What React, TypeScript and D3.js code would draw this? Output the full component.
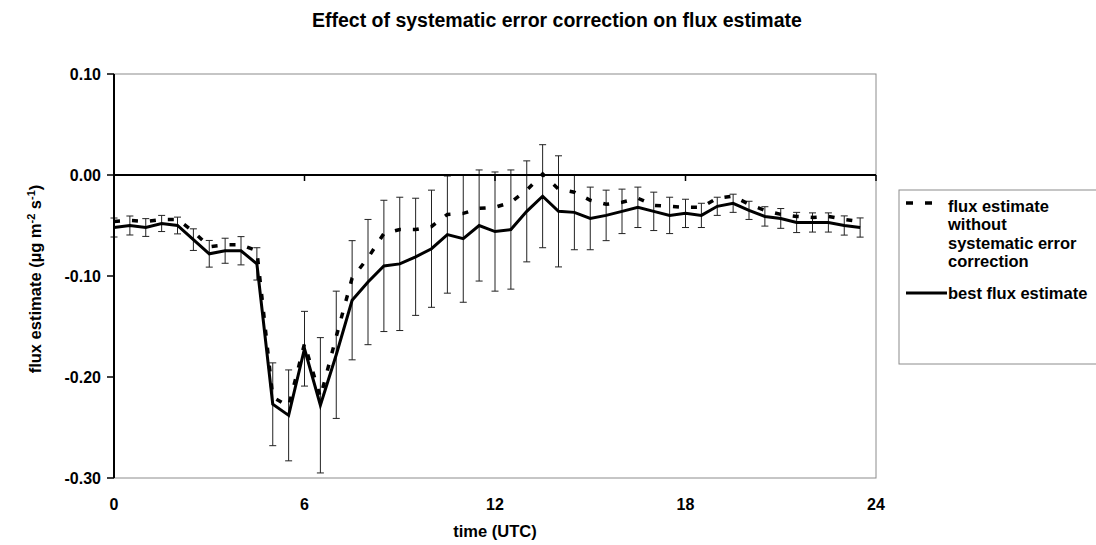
import React from "react";
import * as d3 from "d3";

const hours = [0, 0.5, 1, 1.5, 2, 2.5, 3, 3.5, 4, 4.5, 5, 5.5, 6, 6.5, 7, 7.5, 8, 8.5, 9, 9.5, 10, 10.5, 11, 11.5, 12, 12.5, 13, 13.5, 14, 14.5, 15, 15.5, 16, 16.5, 17, 17.5, 18, 18.5, 19, 19.5, 20, 20.5, 21, 21.5, 22, 22.5, 23, 23.5];

const bestFlux = [-0.052, -0.05, -0.052, -0.048, -0.05, -0.064, -0.078, -0.075, -0.075, -0.088, -0.227, -0.238, -0.172, -0.228, -0.178, -0.124, -0.106, -0.09, -0.088, -0.081, -0.073, -0.059, -0.063, -0.05, -0.056, -0.054, -0.036, -0.021, -0.036, -0.037, -0.043, -0.04, -0.036, -0.032, -0.036, -0.04, -0.038, -0.04, -0.031, -0.028, -0.035, -0.041, -0.043, -0.047, -0.047, -0.047, -0.05, -0.052];

const uncorrectedFlux = [-0.046, -0.045, -0.046, -0.044, -0.044, -0.056, -0.071, -0.069, -0.069, -0.075, -0.22, -0.229, -0.167, -0.22, -0.16, -0.102, -0.082, -0.058, -0.054, -0.054, -0.051, -0.039, -0.038, -0.033, -0.032, -0.027, -0.015, 0.001, -0.014, -0.017, -0.025, -0.029, -0.027, -0.023, -0.03, -0.031, -0.032, -0.032, -0.023, -0.021, -0.029, -0.035, -0.039, -0.041, -0.042, -0.041, -0.044, -0.046];

const errHalf = [0.0094, 0.0094, 0.0088, 0.008, 0.0083, 0.0107, 0.0132, 0.0124, 0.014, 0.016, 0.041, 0.045, 0.037, 0.067, 0.063, 0.059, 0.062, 0.065, 0.066, 0.058, 0.058, 0.058, 0.063, 0.055, 0.059, 0.059, 0.05, 0.051, 0.055, 0.037, 0.031, 0.025, 0.022, 0.02, 0.019, 0.018, 0.014, 0.012, 0.009, 0.009, 0.009, 0.0096, 0.0098, 0.01, 0.0095, 0.0095, 0.0095, 0.0095];

const xTicks = [0, 6, 12, 18, 24];
const yTicks = [0.1, 0, -0.1, -0.2, -0.3];
const yTickLabels = ["0.10", "0.00", "-0.10", "-0.20", "-0.30"];

const titleText = "Effect of systematic error correction on flux estimate";
const legendUncorrected = ["flux estimate", "without", "systematic error", "correction"];
const legendBest = "best flux estimate";

const W = 1096;
const H = 545;
const L = 114, R = 876, T = 74, B = 478;

export default function App() {
  const x = d3.scaleLinear().domain([0, 24]).range([L, R]);
  const y = d3.scaleLinear().domain([-0.3, 0.1]).range([B, T]);
  const line = d3
    .line<number>()
    .x((_, i) => x(hours[i]))
    .y((d) => y(d));
  const font = "'Liberation Sans', Arial, sans-serif";
  return (
    <svg
      width={W}
      height={H}
      style={{ position: "absolute", left: 0, top: 0, background: "#fff" }}
      fontFamily={font}
      fontWeight="bold"
    >
      <rect x={0} y={0} width={W} height={H} fill="#fff" />
      <text x={312} y={27} fontSize={19.5} fill="#000">
        {titleText}
      </text>
      {/* plot frame */}
      <rect x={L} y={T} width={R - L} height={B - T} fill="none" stroke="#8c8c8c" strokeWidth={1} />
      {/* error bars */}
      {hours.map((h, i) => {
        const cx = x(h);
        const y1 = y(bestFlux[i] + errHalf[i]);
        const y2 = y(bestFlux[i] - errHalf[i]);
        return (
          <g key={"e" + i} stroke="#222" strokeWidth={1}>
            <line x1={cx} x2={cx} y1={y1} y2={y2} />
            <line x1={cx - 3.5} x2={cx + 3.5} y1={y1} y2={y1} />
            <line x1={cx - 3.5} x2={cx + 3.5} y1={y2} y2={y2} />
          </g>
        );
      })}
      {/* zero axis */}
      <line x1={L} x2={R} y1={y(0)} y2={y(0)} stroke="#000" strokeWidth={1.8} />
      {xTicks.map((t) => (
        <line key={"xt" + t} x1={x(t)} x2={x(t)} y1={y(0)} y2={y(0) + 6} stroke="#000" strokeWidth={1.5} />
      ))}
      {/* y axis */}
      <line x1={L} x2={L} y1={T} y2={B} stroke="#000" strokeWidth={2} />
      {yTicks.map((v, i) => (
        <g key={"yt" + v}>
          <line x1={L - 7} x2={L} y1={y(v)} y2={y(v)} stroke="#000" strokeWidth={1.5} />
          <text x={101} y={y(v) + 5.5} fontSize={16} textAnchor="end" fill="#000">
            {yTickLabels[i]}
          </text>
        </g>
      ))}
      {xTicks.map((t) => (
        <text key={"xl" + t} x={x(t)} y={510} fontSize={16} textAnchor="middle" fill="#000">
          {t}
        </text>
      ))}
      <text x={(L + R) / 2} y={537} fontSize={16.5} textAnchor="middle" fill="#000">
        time (UTC)
      </text>
      <text transform={`translate(41,${(T + B) / 2 + 3}) rotate(-90)`} fontSize={16.5} textAnchor="middle" fill="#000">
        flux estimate (µg m
        <tspan dy={-6} fontSize={11}>-2</tspan>
        <tspan dy={6}> s</tspan>
        <tspan dy={-6} fontSize={11}>-1</tspan>
        <tspan dy={6}>)</tspan>
      </text>
      {/* series */}
      <path d={line(uncorrectedFlux) || ""} fill="none" stroke="#000" strokeWidth={3.5} strokeDasharray="6 12" />
      <path d={line(bestFlux) || ""} fill="none" stroke="#000" strokeWidth={3} strokeLinejoin="miter" />
      {/* legend */}
      <rect x={899} y={190} width={210} height={174} fill="#fff" stroke="#8c8c8c" strokeWidth={1} />
      <line x1={906} x2={934} y1={203} y2={203} stroke="#000" strokeWidth={3.5} strokeDasharray="7 12" />
      {legendUncorrected.map((s, i) => (
        <text key={"lg" + i} x={948} y={211.7 + i * 18.5} fontSize={16.5} fill="#000">
          {s}
        </text>
      ))}
      <line x1={906} x2={947} y1={293} y2={293} stroke="#000" strokeWidth={3} />
      <text x={948} y={298.5} fontSize={16.5} fill="#000">
        {legendBest}
      </text>
    </svg>
  );
}
